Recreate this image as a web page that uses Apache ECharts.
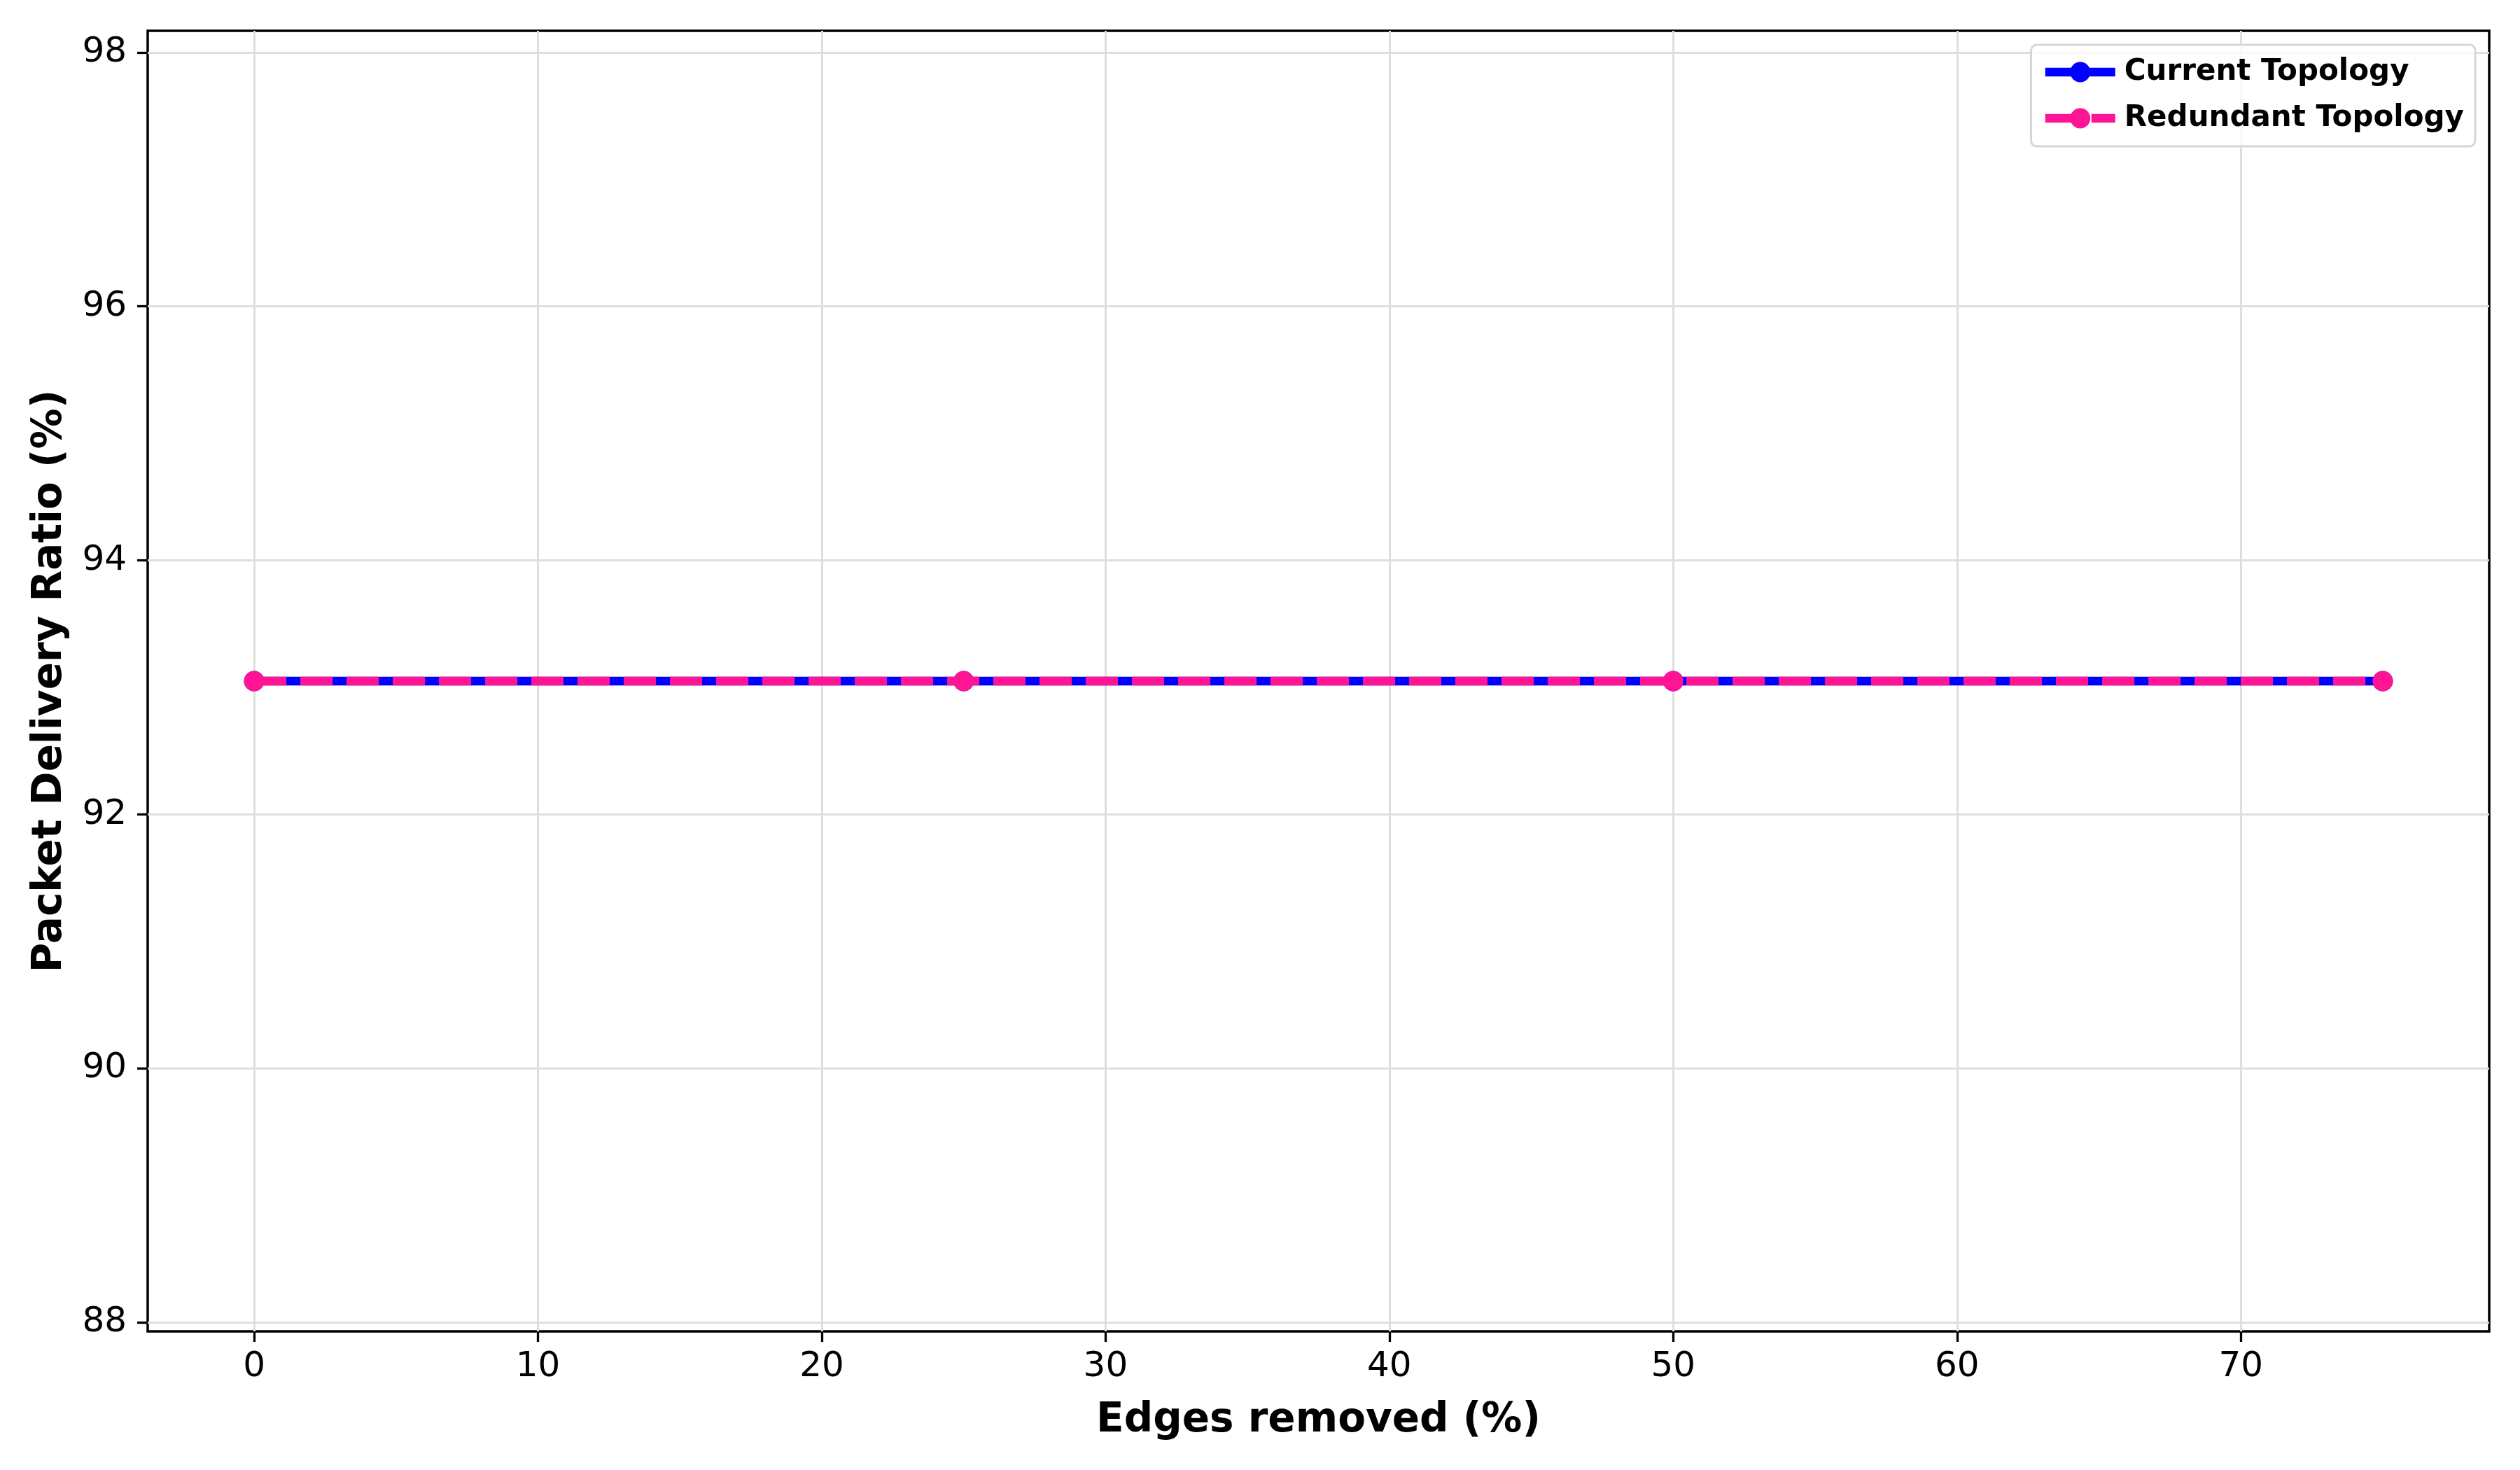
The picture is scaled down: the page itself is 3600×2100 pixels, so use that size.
<!DOCTYPE html>
<html>
<head>
<meta charset="utf-8">
<title>Packet Delivery Ratio</title>
<script src="https://cdn.jsdelivr.net/npm/echarts@6/dist/echarts.min.js"></script>
<style>
  html, body { margin: 0; padding: 0; background: #fff; }
  #chart { width: 3600px; height: 2100px; }
</style>
</head>
<body>
<div id="chart"></div>
<script>
// edges removed (%) and packet delivery ratio (%)
const edgesRemoved = [0, 25, 50, 75];
const currentPdr = [93.05, 93.05, 93.05, 93.05];
const redundantPdr = [93.05, 93.05, 93.05, 93.05];
const seriesNames = ['Current Topology', 'Redundant Topology'];
const xTicks = [0, 10, 20, 30, 40, 50, 60, 70];
const yTicks = [88, 90, 92, 94, 96, 98];

const font = 'DejaVu Sans';
const blue = '#0000ff';
const pink = '#ff1493';
const dash = [46, 20];

function pairs(xs, ys) {
  return xs.map((x, i) => [x, ys[i]]);
}

const chart = echarts.init(document.getElementById('chart'));

let option = {
  animation: false,
  backgroundColor: '#ffffff',
  grid: {
    left: 211,
    right: 44,
    top: 44,
    bottom: 198,
    show: true,
    borderColor: '#000',
    borderWidth: 3.5,
    backgroundColor: 'transparent'
  },
  legend: {
    orient: 'vertical',
    right: 64,
    top: 64,
    itemWidth: 100,
    itemHeight: 36,
    itemGap: 24,
    padding: [18, 16, 19, 14],
    borderColor: '#d6d6d6',
    borderWidth: 3,
    borderRadius: 8,
    backgroundColor: 'rgba(255,255,255,0.8)',
    textStyle: {
      fontFamily: font,
      fontWeight: 'bold',
      fontSize: 42,
      color: '#000',
      padding: [0, 0, 0, 8]
    },
    data: [
      {
        name: seriesNames[0],
        itemStyle: { color: blue },
        lineStyle: { color: blue, width: 12.5, type: 'solid' }
      },
      {
        name: seriesNames[1],
        itemStyle: { color: pink },
        lineStyle: { color: pink, width: 12.5, type: dash, cap: 'butt' }
      }
    ]
  },
  xAxis: {
    type: 'value',
    min: -3.75,
    max: 78.75,
    name: 'Edges removed (%)',
    nameLocation: 'middle',
    nameGap: 99,
    nameTextStyle: { fontFamily: font, fontWeight: 'bold', fontSize: 58, color: '#000' },
    axisLine: { show: false, onZero: false },
    axisTick: {
      show: true,
      inside: false,
      length: 15,
      customValues: xTicks,
      lineStyle: { color: '#000', width: 3.3 }
    },
    axisLabel: {
      customValues: xTicks,
      margin: 26,
      fontFamily: font,
      fontSize: 50,
      color: '#000'
    },
    splitLine: { show: true, lineStyle: { color: '#dedede', width: 3 } }
  },
  yAxis: {
    type: 'value',
    min: 87.93,
    max: 98.17,
    name: 'Packet Delivery Ratio (%)',
    nameLocation: 'middle',
    nameGap: 110,
    nameTextStyle: { fontFamily: font, fontWeight: 'bold', fontSize: 58, color: '#000' },
    axisLine: { show: false, onZero: false },
    axisTick: {
      show: true,
      inside: false,
      length: 15,
      customValues: yTicks,
      lineStyle: { color: '#000', width: 3.3 }
    },
    axisLabel: {
      customValues: yTicks,
      margin: 30,
      fontFamily: font,
      fontSize: 50,
      color: '#000'
    },
    splitLine: { show: true, lineStyle: { color: '#dedede', width: 3 } }
  },
  series: [
    {
      name: seriesNames[0],
      type: 'line',
      data: pairs(edgesRemoved, currentPdr),
      symbol: 'circle',
      symbolSize: 29,
      color: blue,
      lineStyle: { color: blue, width: 12.5 },
      itemStyle: { color: blue },
      z: 3
    },
    {
      name: seriesNames[1],
      type: 'line',
      data: pairs(edgesRemoved, redundantPdr),
      symbol: 'circle',
      symbolSize: 29,
      color: pink,
      lineStyle: { color: pink, width: 12.5, type: dash, cap: 'butt' },
      itemStyle: { color: pink },
      z: 4
    }
  ]
};

chart.setOption(option);
</script>
</body>
</html>
